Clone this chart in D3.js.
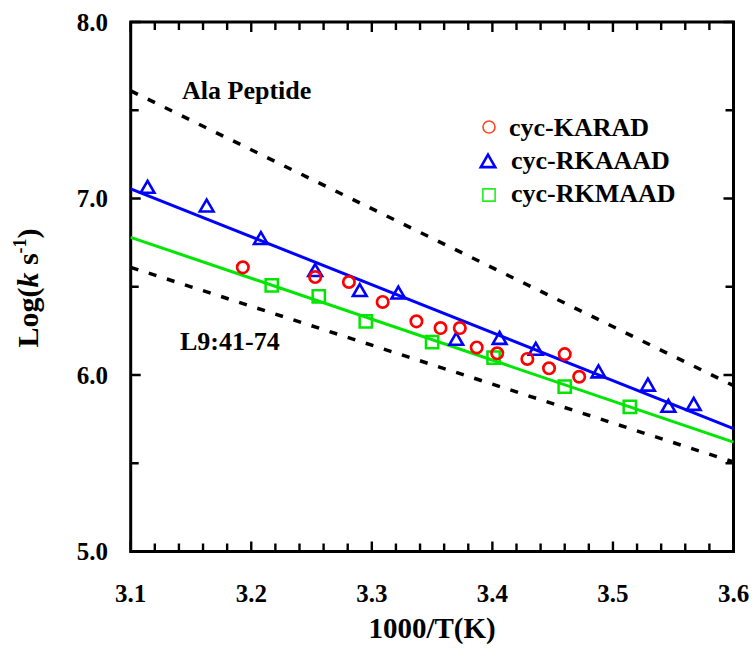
<!DOCTYPE html>
<html>
<head>
<meta charset="utf-8">
<script src="https://cdn.jsdelivr.net/npm/d3@7/dist/d3.min.js"></script>
<style>
  html, body { margin: 0; padding: 0; background: #fff; }
  svg { display: block; }
  text { font-family: "Liberation Serif", "Times New Roman", serif; font-weight: bold; fill: #000; }
</style>
</head>
<body>
<svg id="chart" width="755" height="660"></svg>
<script>
// Rate constants vs inverse temperature
const karadX = [3.193, 3.253, 3.281, 3.309, 3.337, 3.357, 3.373, 3.387, 3.404, 3.429, 3.447, 3.460, 3.472];
const karadY = [6.61, 6.555, 6.527, 6.414, 6.304, 6.266, 6.266, 6.156, 6.123, 6.091, 6.038, 6.118, 5.990];

const rkaaadX = [3.114, 3.163, 3.208, 3.253, 3.290, 3.322, 3.370, 3.406, 3.436, 3.488, 3.529, 3.546, 3.567];
const rkaaadY = [7.055, 6.949, 6.765, 6.583, 6.470, 6.456, 6.194, 6.199, 6.137, 6.009, 5.934, 5.814, 5.825];

const rkmaadX = [3.217, 3.256, 3.295, 3.350, 3.401, 3.460, 3.514];
const rkmaadY = [6.508, 6.446, 6.304, 6.186, 6.099, 5.934, 5.820];

// Straight lines given by their values at the two ends of the x range
const lineEndsX = [3.1, 3.6];
const rkaaadFit = [7.055, 5.696];
const rkmaadFit = [6.78, 5.62];
const alaPeptide = [7.61, 5.94];
const l9Peptide = [6.61, 5.507];

const xTickLabels = [3.1, 3.2, 3.3, 3.4, 3.5, 3.6];
const yTickLabels = [5.0, 6.0, 7.0, 8.0];
const xMinorTicks = [3.12, 3.14, 3.16, 3.18, 3.22, 3.24, 3.26, 3.28, 3.32, 3.34, 3.36, 3.38,
                     3.42, 3.44, 3.46, 3.48, 3.52, 3.54, 3.56, 3.58];
const yMinorTicks = [5.5, 6.5, 7.5];
const seriesNames = ["cyc-KARAD", "cyc-RKAAAD", "cyc-RKMAAD"];

const svg = d3.select("#chart");
const plotLeft = 130.7, plotRight = 733.5, plotTop = 22, plotBottom = 551.5;

const x = d3.scaleLinear().domain([3.1, 3.6]).range([plotLeft, plotRight]);
const y = d3.scaleLinear().domain([5.0, 8.0]).range([plotBottom, plotTop]);

// frame
svg.append("rect").attr("x", plotLeft).attr("y", plotTop)
  .attr("width", plotRight - plotLeft).attr("height", plotBottom - plotTop)
  .attr("fill", "none").attr("stroke", "#000").attr("stroke-width", 3);

// inward ticks on all four sides, collected into one path
const tickPath = d3.path();
function addXTicks(values, len) {
  values.forEach(v => {
    const px = x(v);
    tickPath.moveTo(px, plotBottom); tickPath.lineTo(px, plotBottom - len);
    tickPath.moveTo(px, plotTop); tickPath.lineTo(px, plotTop + len);
  });
}
function addYTicks(values, len) {
  values.forEach(v => {
    const py = y(v);
    tickPath.moveTo(plotLeft, py); tickPath.lineTo(plotLeft + len, py);
    tickPath.moveTo(plotRight, py); tickPath.lineTo(plotRight - len, py);
  });
}
addXTicks(xTickLabels, 10);
addXTicks(xMinorTicks, 8);
addYTicks(yTickLabels, 10);
addYTicks(yMinorTicks, 8);
svg.append("path").attr("d", tickPath.toString())
  .attr("fill", "none").attr("stroke", "#000").attr("stroke-width", 2.4);

// tick labels
svg.append("g").selectAll("text").data(xTickLabels).join("text")
  .attr("x", d => x(d)).attr("y", 602)
  .attr("text-anchor", "middle").attr("font-size", 25)
  .text(d => d.toFixed(1));

svg.append("g").selectAll("text").data(yTickLabels).join("text")
  .attr("x", 108).attr("y", d => y(d)).attr("dy", "0.34em")
  .attr("text-anchor", "end").attr("font-size", 25)
  .text(d => d.toFixed(1));

// axis titles
svg.append("text").attr("x", (plotLeft + plotRight) / 2).attr("y", 638)
  .attr("text-anchor", "middle").attr("font-size", 29).text("1000/T(K)");

const yTitle = svg.append("text")
  .attr("transform", "translate(38,288) rotate(-90)")
  .attr("text-anchor", "middle").attr("font-size", 30);
yTitle.append("tspan").text("Log(");
yTitle.append("tspan").attr("font-style", "italic").text("k");
yTitle.append("tspan").text(" s");
yTitle.append("tspan").attr("font-size", 18).attr("dy", -12).text("-1");
yTitle.append("tspan").attr("dy", 12).text(")");

// lines
const line = d3.line().x(d => x(d[0])).y(d => y(d[1]));
const plot = svg.append("g");

function drawLine(vals, color, dashed) {
  const p = plot.append("path")
    .datum(lineEndsX.map((v, i) => [v, vals[i]]))
    .attr("d", line).attr("fill", "none")
    .attr("stroke", color);
  if (dashed) p.attr("stroke-width", 3.5).attr("stroke-dasharray", "8,11");
  else p.attr("stroke-width", 3);
}
drawLine(alaPeptide, "#000", true);
drawLine(l9Peptide, "#000", true);
drawLine(rkaaadFit, "#0000ff", false);
drawLine(rkmaadFit, "#00e600", false);

// markers
const tri = d3.symbol().type(d3.symbolTriangle).size(82);
const sq = d3.symbol().type(d3.symbolSquare).size(150);

plot.append("g").selectAll("path").data(rkmaadX.map((v, i) => [v, rkmaadY[i]])).join("path")
  .attr("d", sq).attr("transform", d => `translate(${x(d[0])},${y(d[1])})`)
  .attr("fill", "none").attr("stroke", "#00e600").attr("stroke-width", 2.5);

plot.append("g").selectAll("path").data(rkaaadX.map((v, i) => [v, rkaaadY[i]])).join("path")
  .attr("d", tri).attr("transform", d => `translate(${x(d[0])},${y(d[1])})`)
  .attr("fill", "none").attr("stroke", "#0000ff").attr("stroke-width", 2.6);

plot.append("g").selectAll("circle").data(karadX.map((v, i) => [v, karadY[i]])).join("circle")
  .attr("cx", d => x(d[0])).attr("cy", d => y(d[1])).attr("r", 5.7)
  .attr("fill", "none").attr("stroke", "#ff0000").attr("stroke-width", 2.7);

// line labels
svg.append("text").attr("x", 182).attr("y", 99).attr("font-size", 26).text("Ala Peptide");
svg.append("text").attr("x", 180).attr("y", 350).attr("font-size", 26).text("L9:41-74");

// legend
const legend = svg.append("g");
const legendRows = [
  { cx: 489, cy: 127, tx: 509, ty: 136 },
  { cx: 488, cy: 163, tx: 511, ty: 169 },
  { cx: 489, cy: 195, tx: 511, ty: 202 }
];
legend.append("circle").attr("cx", legendRows[0].cx).attr("cy", legendRows[0].cy).attr("r", 6)
  .attr("fill", "none").attr("stroke", "#ff4422").attr("stroke-width", 1.6);
legend.append("path").attr("d", d3.symbol().type(d3.symbolTriangle).size(90))
  .attr("transform", `translate(${legendRows[1].cx},${legendRows[1].cy})`)
  .attr("fill", "none").attr("stroke", "#0000ff").attr("stroke-width", 2.6);
legend.append("path").attr("d", d3.symbol().type(d3.symbolSquare).size(150))
  .attr("transform", `translate(${legendRows[2].cx},${legendRows[2].cy})`)
  .attr("fill", "none").attr("stroke", "#22ee22").attr("stroke-width", 1.6);
legend.selectAll("text").data(seriesNames).join("text")
  .attr("x", (d, i) => legendRows[i].tx).attr("y", (d, i) => legendRows[i].ty)
  .attr("font-size", 26).text(d => d);
</script>
</body>
</html>
